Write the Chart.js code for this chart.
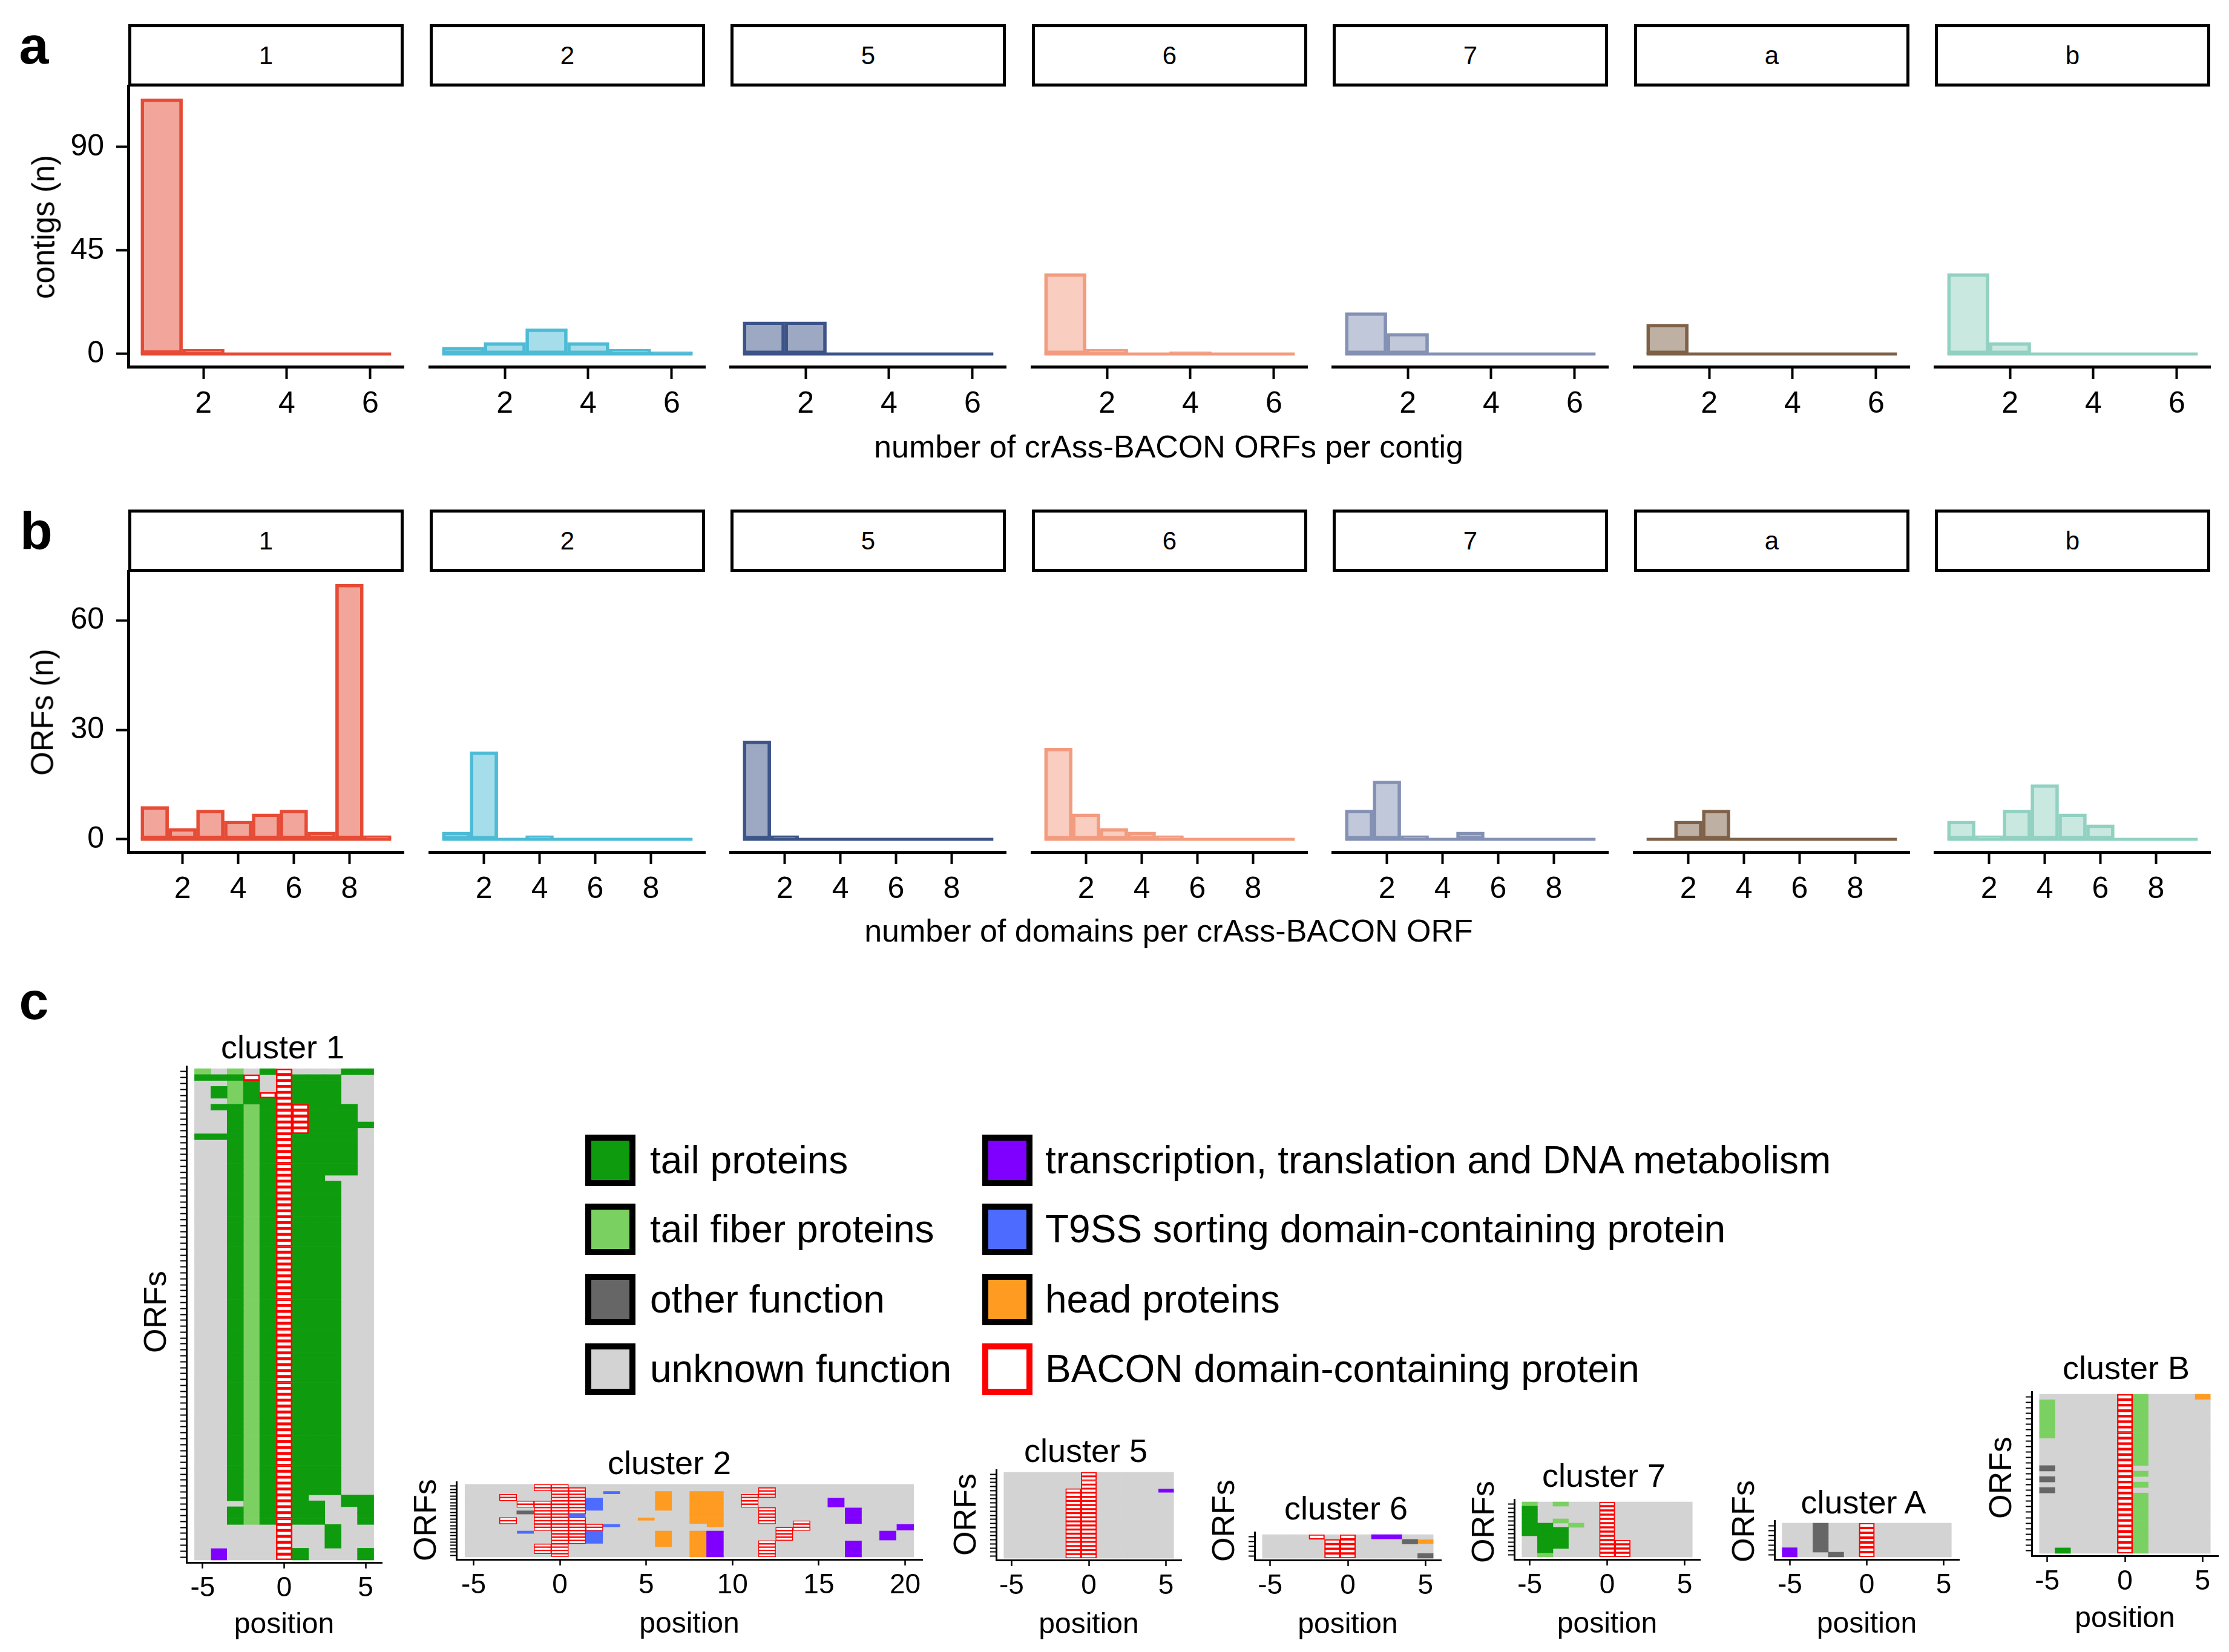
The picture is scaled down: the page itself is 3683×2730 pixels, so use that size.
<!DOCTYPE html>
<html>
<head>
<meta charset="utf-8">
<script src="https://cdn.jsdelivr.net/npm/chart.js@4.4.1/dist/chart.umd.min.js"></script>
<style>
  html, body { margin: 0; padding: 0; background: #fff; }
  body { width: 3683px; height: 2730px; position: relative; overflow: hidden;
         font-family: "Liberation Sans", Arial, Helvetica, sans-serif; color: #000; }
  canvas { position: absolute; }
  .t { position: absolute; white-space: nowrap; line-height: 1; transform: translate(-50%, -50%); }
  .strip { position: absolute; box-sizing: border-box; border: 5px solid #000; display: flex;
           align-items: center; justify-content: center; font-size: 42px; }
  .key { position: absolute; box-sizing: border-box; border: 10px solid #000; }
</style>
</head>
<body>
<script>
// ---- panels a and b: histograms per cluster ----
const facetNames = ['1', '2', '5', '6', '7', 'a', 'b'];
const facetColors = ['#E64B35', '#4DBBD5', '#3C5488', '#F39B7F', '#8491B4', '#7E6148', '#91D1C2'];

const orfsPerContig = [1, 2, 3, 4, 5, 6];
const contigCounts = [
  [111, 2, 0, 0, 0, 0],
  [3, 5, 11, 5, 2, 1],
  [14, 14, 0, 0, 0, 0],
  [35, 2, 0, 1, 0, 0],
  [18, 9, 0, 0, 0, 0],
  [13, 0, 0, 0, 0, 0],
  [35, 5, 0, 0, 0, 0]
];
const contigTicksY = [0, 45, 90];
const contigTicksX = [2, 4, 6];

const domainsPerOrf = [1, 2, 3, 4, 5, 6, 7, 8, 9];
const orfCounts = [
  [9, 3, 8, 5, 7, 8, 2, 70, 1],
  [2, 24, 0, 1, 0, 0, 0, 0, 0],
  [27, 1, 0, 0, 0, 0, 0, 0, 0],
  [25, 7, 3, 2, 1, 0, 0, 0, 0],
  [8, 16, 1, 0, 2, 0, 0, 0, 0],
  [0, 5, 8, 0, 0, 0, 0, 0, 0],
  [5, 1, 8, 15, 7, 4, 0, 0, 0]
];
const orfTicksY = [0, 30, 60];
const domainTicksX = [2, 4, 6, 8];

// ---- panel c: gene neighbourhoods (one string per ORF row, one char per position) ----
const categoryCodes = ['T', 'F', 'O', 'U', 'X', 'S', 'H', 'B'];
const categoryLabels = ['tail proteins', 'tail fiber proteins', 'other function', 'unknown function',
  'transcription, translation and DNA metabolism', 'T9SS sorting domain-containing protein',
  'head proteins', 'BACON domain-containing protein'];
const categoryColors = ['#0E9C0E', '#7BD062', '#666666', '#D3D3D3', '#8000FF', '#4D6BFF', '#FF9B21', '#FFFFFF'];

const clusterNames = ['cluster 1', 'cluster 2', 'cluster 5', 'cluster 6', 'cluster 7', 'cluster A', 'cluster B'];
const clusterFirstPosition = [-5, -5, -5, -5, -5, -5, -5];
const clusterXRange = [[-6, 6], [-6, 21], [-6, 6], [-6, 6], [-6, 6], [-6, 6], [-6, 6]];
const positionTicks = [[-5, 0, 5], [-5, 0, 5, 10, 15, 20], [-5, 0, 5], [-5, 0, 5], [-5, 0, 5], [-5, 0, 5], [-5, 0, 5]];

// [number of rows, row] from top to bottom
const cluster1 = [
  [1, 'FUFUTBUUUTT'],
  [1, 'TTTBUBTTTUU'],
  [1, 'UUFTUBTTTUU'],
  [1, 'UTFTUBTTTUU'],
  [1, 'UTFTBBTTTUU'],
  [1, 'UUFTTBTTTUU'],
  [1, 'UTTFTBBTTTU'],
  [2, 'UUTFTBBTTTU'],
  [1, 'UUTFTBBTTTT'],
  [1, 'UUTFTBBTTTU'],
  [1, 'TTTFTBTTTTU'],
  [6, 'UUTFTBTTTTU'],
  [1, 'UUTFTBTTUUU'],
  [53, 'UUTFTBTTTUU'],
  [1, 'UUTFTBTUUTT'],
  [1, 'UUUFTBTTUTT'],
  [3, 'UUTFTBTTUUT'],
  [4, 'UUUUUBUUTUU'],
  [2, 'UXUUUBTUUUT']
];
const cluster2 = [
  [1, 'UUUUBBUUUUUUUUUUUUUUUUUUUU'],
  [1, 'UUUUBBBUUUUUUUUUUBUUUUUUUU'],
  [1, 'UUUUUBBUSUUHUHHUUBUUUUUUUU'],
  [1, 'UUBUUBBUUUUHUHHUBBUUUUUUUU'],
  [1, 'UUBUUBBSUUUHUHHUBUUUUXUUUU'],
  [2, 'UUUBBBBSUUUHUHHUBUUUUXUUUU'],
  [1, 'UUUUBBBSUUUHUHHUUBUUUUXUUU'],
  [1, 'UUUOBBBUUUUUUHHUUBUUUUXUUU'],
  [1, 'UUUUBBSUUUUUUHHUUBUUUUXUUU'],
  [1, 'UUBUBBBUUUHUUHHUUBUUUUXUUU'],
  [1, 'UUBUBBBUUUUUUHHUUBUBUUXUUU'],
  [1, 'UUUUBBBBSUUUUUHUUUUBUUUUUX'],
  [1, 'UUUUBBBBUUUUUUUUUUBBUUUUUX'],
  [1, 'UUUSUBBSUUUHUHXUUUBUUUUUXU'],
  [2, 'UUUUUBBSUUUHUHXUUUBUUUUUXU'],
  [1, 'UUUUUBBSUUUHUHXUUBUUUUXUUU'],
  [1, 'UUUUBBUUUUUHUHXUUBUUUUXUUU'],
  [2, 'UUUUBBUUUUUUUHXUUBUUUUXUUU'],
  [1, 'UUUUUBUUUUUUUHXUUBUUUUXUUU']
];
const cluster5 = [
  [4, 'UUUUUBUUUUU'],
  [1, 'UUUUBBUUUUX'],
  [16, 'UUUUBBUUUUU']
];
const cluster6 = [
  [1, 'UUUBUBUXXUU'],
  [1, 'UUUUBBUUUOH'],
  [2, 'UUUUBBUUUUU'],
  [1, 'UUUUBBUUUUO']
];
const cluster7 = [
  [1, 'FUFUUBUUUUU'],
  [3, 'TUUUUBUUUUU'],
  [1, 'TUFUUBUUUUU'],
  [1, 'TTUFUBUUUUU'],
  [2, 'TTTUUBUUUUU'],
  [1, 'UTTUUBUUUUU'],
  [2, 'UTTUUBBUUUU'],
  [1, 'UTUUUBBUUUU'],
  [1, 'UFUUUBBUUUU']
];
const clusterA = [
  [5, 'UUOUUBUUUUU'],
  [1, 'XUOUUBUUUUU'],
  [1, 'XUUOUBUUUUU']
];
const clusterB = [
  [1, 'UUUUUBFUUUH'],
  [7, 'FUUUUBFUUUU'],
  [5, 'UUUUUBFUUUU'],
  [1, 'OUUUUBUUUUU'],
  [1, 'UUUUUBFUUUU'],
  [1, 'OUUUUBUUUUU'],
  [1, 'UUUUUBFUUUU'],
  [1, 'OUUUUBUUUUU'],
  [10, 'UUUUUBFUUUU'],
  [1, 'UTUUUBFUUUU']
];
const clusterRows = [cluster1, cluster2, cluster5, cluster6, cluster7, clusterA, clusterB];

// ---- layout (page pixels) ----
const clusterLayout = [
  { x: 308, y: 1762, w: 323, h: 820, t0: 1766, t1: 2578, titleX: 467, titleY: 1730, orfsY: 2168, posY: 2683 },
  { x: 754, y: 2449, w: 770, h: 128, t0: 2453, t1: 2573, titleX: 1106, titleY: 2417, orfsY: 2512, posY: 2682 },
  { x: 1646, y: 2429, w: 306, h: 149, t0: 2433, t1: 2575, titleX: 1794, titleY: 2397, orfsY: 2503, posY: 2683 },
  { x: 2073, y: 2532, w: 308, h: 46, t0: 2536, t1: 2575, titleX: 2224, titleY: 2492, orfsY: 2513, posY: 2683 },
  { x: 2502, y: 2478, w: 307, h: 99, t0: 2482, t1: 2573, titleX: 2650, titleY: 2438, orfsY: 2515, posY: 2682 },
  { x: 2932, y: 2513, w: 305, h: 64, t0: 2517, t1: 2573, titleX: 3079, titleY: 2482, orfsY: 2514, posY: 2682 },
  { x: 3357, y: 2300, w: 308, h: 271, t0: 2304, t1: 2567, titleX: 3513, titleY: 2260, orfsY: 2442, posY: 2673 }
];

Chart.defaults.font.family = '"Liberation Sans", Arial, Helvetica, sans-serif';
Chart.defaults.color = '#000';

function addText(str, x, y, size, opts = {}) {
  const d = document.createElement('div');
  d.className = 't';
  d.textContent = str;
  d.style.left = x + 'px';
  d.style.top = y + 'px';
  d.style.fontSize = size + 'px';
  if (opts.bold) d.style.fontWeight = 'bold';
  if (opts.rotate) d.style.transform = 'translate(-50%, -50%) rotate(-90deg)';
  if (opts.leftAlign) d.style.transform = 'translate(0, -50%)';
  document.body.appendChild(d);
}

function addCanvas(left, top, w, h) {
  const cv = document.createElement('canvas');
  cv.width = w; cv.height = h;
  cv.style.left = left + 'px'; cv.style.top = top + 'px';
  cv.style.width = w + 'px'; cv.style.height = h + 'px';
  document.body.appendChild(cv);
  return cv;
}

function withAlpha(hex, a) {
  const n = parseInt(hex.slice(1), 16);
  return `rgba(${(n >> 16) & 255},${(n >> 8) & 255},${n & 255},${a})`;
}

function expandRows(runs) {
  const out = [];
  runs.forEach(([n, s]) => { for (let i = 0; i < n; i++) out.push(s); });
  return out;
}

// one facet of a histogram row
function histogram(k, bins, counts, xTicks, yTicks, top, stripTop, maxCount) {
  const left = Math.round(212 + k * 497.5), width = 455, height = 464;
  const ML = 180, MR = 10, MB = 100, MT = 60;
  const col = facetColors[k];

  const strip = document.createElement('div');
  strip.className = 'strip';
  strip.textContent = facetNames[k];
  strip.style.left = left + 'px';
  strip.style.top = stripTop + 'px';
  strip.style.width = width + 'px';
  strip.style.height = (top - stripTop + 1) + 'px';
  document.body.appendChild(strip);

  const cv = addCanvas(left - ML, top - MT, ML + width + MR, MT + height + MB);
  const span = bins[bins.length - 1] - bins[0] + 1;
  new Chart(cv, {
    type: 'bar',
    data: {
      datasets: [
        {
          type: 'bar',
          data: bins.map((b, i) => ({ x: b, y: counts[i] })),
          backgroundColor: withAlpha(col, 0.5),
          borderColor: col,
          borderWidth: 5,
          borderSkipped: false,
          barPercentage: 1,
          categoryPercentage: 1,
          order: 1
        },
        {
          type: 'line',
          data: [{ x: bins[0] - 0.5, y: 0 }, { x: bins[bins.length - 1] + 0.5, y: 0 }],
          borderColor: col,
          borderWidth: 5,
          pointRadius: 0,
          order: 2
        }
      ]
    },
    options: {
      responsive: false, animation: false, devicePixelRatio: 1,
      layout: { autoPadding: false, padding: { left: 0, top: MT, right: MR, bottom: 0 } },
      plugins: { legend: { display: false }, tooltip: { enabled: false } },
      scales: {
        x: {
          type: 'linear', offset: false,
          min: bins[0] - 0.5 - span * 0.05, max: bins[bins.length - 1] + 0.5 + span * 0.05,
          afterBuildTicks: s => { s.ticks = xTicks.map(v => ({ value: v })); },
          afterFit: s => { s.height = MB; },
          border: { display: true, color: '#000', width: 5 },
          grid: { display: true, offset: false, drawOnChartArea: false, drawTicks: true, tickLength: 20, tickWidth: 4, color: '#000' },
          ticks: { font: { size: 50 }, color: '#000', padding: 12, maxRotation: 0, autoSkip: false }
        },
        y: {
          type: 'linear', min: -maxCount * 0.05, max: maxCount * 1.05,
          afterBuildTicks: s => { s.ticks = yTicks.map(v => ({ value: v })); },
          afterFit: s => { s.width = ML; },
          border: { display: k === 0, color: '#000', width: 5 },
          grid: { display: k === 0, offset: false, drawOnChartArea: false, drawTicks: true, tickLength: 20, tickWidth: 4, color: '#000' },
          ticks: { display: k === 0, font: { size: 50 }, color: '#000', padding: 20 }
        }
      }
    }
  });
}

const maxContigs = Math.max(...contigCounts.flat());
const maxOrfs = Math.max(...orfCounts.flat());
facetNames.forEach((_, k) => {
  histogram(k, orfsPerContig, contigCounts[k], contigTicksX, contigTicksY, 142, 40, maxContigs);
  histogram(k, domainsPerOrf, orfCounts[k], domainTicksX, orfTicksY, 944, 842, maxOrfs);
});

addText('a', 56, 75, 88, { bold: true });
addText('b', 60, 877, 88, { bold: true });
addText('c', 56, 1654, 88, { bold: true });
addText('contigs (n)', 72, 375, 51, { rotate: true });
addText('ORFs (n)', 70, 1177, 51, { rotate: true });
addText('number of crAss-BACON ORFs per contig', 1931, 738, 52);
addText('number of domains per crAss-BACON ORF', 1931, 1538, 52);

// ---- panel c heatmaps ----
function heatmap(ci) {
  const L = clusterLayout[ci];
  const rows = expandRows(clusterRows[ci]);
  const n = rows.length;
  const rowH = (L.t1 - L.t0) / n;
  const yMin = 0.5 - (L.t0 - L.y) / rowH;
  const yMax = n + 0.5 + (L.y + L.h - L.t1) / rowH;
  const first = clusterFirstPosition[ci];
  const ML = 40, MR = 40, MT = 5, MB = 90;

  const datasets = categoryCodes.map((code, k) => {
    const tiles = [];
    rows.forEach((s, r) => {
      for (let j = 0; j < s.length; j++) {
        if (s[j] === code) tiles.push({ y: r + 1, x: [first + j - 0.5, first + j + 0.5] });
      }
    });
    const bacon = code === 'B';
    return {
      data: tiles,
      backgroundColor: categoryColors[k],
      borderColor: bacon ? '#FF0000' : categoryColors[k],
      borderWidth: bacon ? Math.max(1.3, rowH * 0.28) : 0,
      borderSkipped: false,
      grouped: false,
      barPercentage: 1,
      categoryPercentage: 1,
      order: bacon ? 0 : 1
    };
  });

  const cv = addCanvas(L.x - ML, L.y - MT, L.w + ML + MR, L.h + MT + MB);
  new Chart(cv, {
    type: 'bar',
    data: { datasets },
    options: {
      indexAxis: 'y',
      responsive: false, animation: false, devicePixelRatio: 1,
      layout: { autoPadding: false, padding: { left: 0, top: MT, right: MR, bottom: 0 } },
      plugins: { legend: { display: false }, tooltip: { enabled: false } },
      scales: {
        x: {
          type: 'linear', offset: false, min: clusterXRange[ci][0], max: clusterXRange[ci][1],
          afterBuildTicks: s => { s.ticks = positionTicks[ci].map(v => ({ value: v })); },
          afterFit: s => { s.height = MB; },
          border: { display: true, color: '#000', width: 3 },
          grid: { display: true, offset: false, drawOnChartArea: false, drawTicks: true, tickLength: 10, tickWidth: 2.5, color: '#000' },
          ticks: { font: { size: 46 }, color: '#000', padding: 6, maxRotation: 0, autoSkip: false }
        },
        y: {
          type: 'linear', offset: false, reverse: true, min: yMin, max: yMax,
          afterBuildTicks: s => { s.ticks = rows.map((_, i) => ({ value: i + 1 })); },
          afterFit: s => { s.width = ML; },
          border: { display: true, color: '#000', width: 3 },
          grid: { display: true, offset: false, drawOnChartArea: false, drawTicks: true, tickLength: 10, tickWidth: 2, color: '#000' },
          ticks: { display: false }
        }
      }
    }
  });

  addText(clusterNames[ci], L.titleX, L.titleY, 54);
  addText('ORFs', L.x - 52, L.orfsY, 52, { rotate: true });
  addText('position', L.x + L.w / 2, L.posY, 48);
}

clusterNames.forEach((_, ci) => heatmap(ci));

// ---- legend ----
const legendKeyX = [967, 1623];
const legendTextX = [1074, 1727];
const legendRowY = [1917, 2031, 2147, 2262];
categoryCodes.forEach((code, k) => {
  const col = k < 4 ? 0 : 1, row = k % 4;
  const key = document.createElement('div');
  key.className = 'key';
  key.style.left = legendKeyX[col] + 'px';
  key.style.top = (legendRowY[row] - 42) + 'px';
  key.style.width = '83px';
  key.style.height = '85px';
  key.style.background = categoryColors[k];
  if (code === 'B') key.style.borderColor = '#FF0000';
  document.body.appendChild(key);
  addText(categoryLabels[k], legendTextX[col], legendRowY[row], 64, { leftAlign: true });
});
</script>
</body>
</html>
